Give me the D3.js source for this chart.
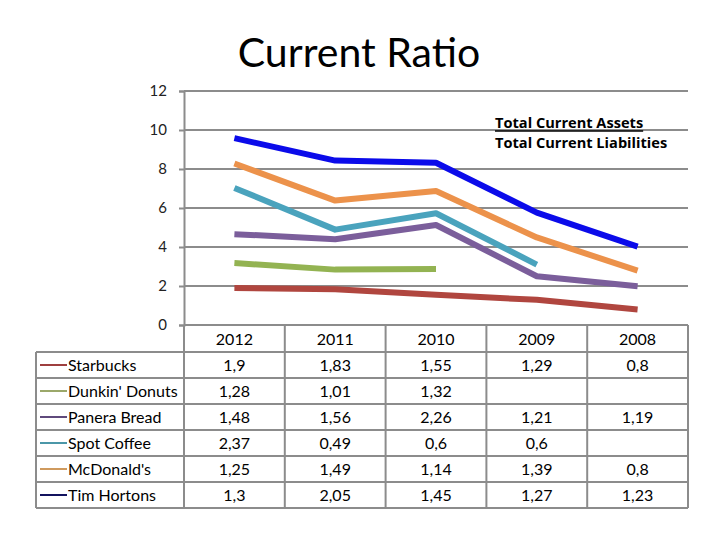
<!DOCTYPE html>
<html>
<head>
<meta charset="utf-8">
<title>Current Ratio</title>
<script src="https://d3js.org/d3.v7.min.js"></script>
<style>
  body { margin: 0; background: #fff; }
  svg text { font-family: Lato, "Open Sans", sans-serif; }
  svg text.note { font-family: "Open Sans", sans-serif; font-weight: bold; font-size: 14.6px; }
</style>
</head>
<body>
<div id="chart"></div>
<script>
var years = ["2012", "2011", "2010", "2009", "2008"];
var companies = ["Starbucks", "Dunkin' Donuts", "Panera Bread", "Spot Coffee", "McDonald's", "Tim Hortons"];
var starbucks = [1.9, 1.83, 1.55, 1.29, 0.8];
var dunkin = [1.28, 1.01, 1.32, null, null];
var panera = [1.48, 1.56, 2.26, 1.21, 1.19];
var spot = [2.37, 0.49, 0.6, 0.6, null];
var mcdonalds = [1.25, 1.49, 1.14, 1.39, 0.8];
var timHortons = [1.3, 2.05, 1.45, 1.27, 1.23];
var yTicks = [0, 2, 4, 6, 8, 10, 12];

var lineColors = ["#b0463f", "#93b352", "#7b5e9b", "#4aa3bd", "#ec924b", "#0b0bea"];
var keyColors = ["#9e3f3f", "#9ba86a", "#5f4a7c", "#4b97a8", "#cf9a5e", "#13135e"];

var seriesVals = [starbucks, dunkin, panera, spot, mcdonalds, timHortons];

var W = 720, H = 540;
var plotL = 184, plotR = 688, plotT = 91, zeroY = 325;
var rowH = 26, rowTop = 352, tableLeft = 36;

var svg = d3.select("#chart").append("svg")
  .attr("width", W).attr("height", H);

var x = d3.scaleBand().domain(years).range([plotL, plotR]);
var y = d3.scaleLinear().domain([0, 12]).range([zeroY, plotT]);

// title
svg.append("text")
  .attr("x", 359).attr("y", 67)
  .attr("text-anchor", "middle")
  .attr("font-size", 41)
  .attr("fill", "#000")
  .text("Current Ratio");

// grid
svg.append("g").selectAll("line")
  .data(yTicks)
  .enter().append("line")
  .attr("x1", plotL).attr("x2", plotR)
  .attr("y1", function(d){ return y(d); })
  .attr("y2", function(d){ return y(d); })
  .attr("stroke", "#8c8c8c").attr("stroke-width", 2);

var yAxis = svg.append("g")
  .attr("transform", "translate(" + plotL + ",0)")
  .call(d3.axisLeft(y).tickValues(yTicks).tickSize(5).tickPadding(12).tickFormat(d3.format("d")));
yAxis.select(".domain").attr("stroke", "#8c8c8c").attr("stroke-width", 2);
yAxis.selectAll(".tick line").attr("stroke", "#8c8c8c").attr("stroke-width", 2);
yAxis.selectAll(".tick text")
  .attr("font-family", "Lato, 'Open Sans', sans-serif")
  .attr("font-size", 15).attr("fill", "#222");

// stacked lines (missing values add nothing and break the line)
var cum = years.map(function(){ return 0; });
var stacked = seriesVals.map(function(vals){
  return vals.map(function(v, i){
    if (v !== null) cum[i] += v;
    return v === null ? null : cum[i];
  });
});

var line = d3.line()
  .defined(function(d){ return d !== null; })
  .x(function(d, i){ return x(years[i]) + x.bandwidth() / 2; })
  .y(function(d){ return y(d); });

svg.append("g").selectAll("path")
  .data(stacked)
  .enter().append("path")
  .attr("d", line)
  .attr("fill", "none")
  .attr("stroke", function(d, i){ return lineColors[i]; })
  .attr("stroke-width", 6)
  .attr("stroke-linejoin", "round");

// annotation
var note = svg.append("g");
var top1 = note.append("text").attr("class", "note").attr("x", 495).attr("y", 128).text("Total Current Assets");
note.append("line").attr("x1", 495).attr("x2", 495 + top1.node().getComputedTextLength())
  .attr("y1", 131).attr("y2", 131)
  .attr("stroke", "#000").attr("stroke-width", 1.3);
note.append("text").attr("class", "note").attr("x", 495).attr("y", 148).text("Total Current Liabilities");

// data table
var table = svg.append("g");
var bottom = rowTop + rowH * companies.length;
var gray = "#8c8c8c";

table.selectAll("line.h")
  .data(d3.range(companies.length + 1))
  .enter().append("line")
  .attr("x1", tableLeft).attr("x2", plotR)
  .attr("y1", function(i){ return rowTop + i * rowH; })
  .attr("y2", function(i){ return rowTop + i * rowH; })
  .attr("stroke", gray).attr("stroke-width", 2);

var vx = years.map(function(yr){ return x(yr); }).concat([plotR]);
table.selectAll("line.v")
  .data(vx)
  .enter().append("line")
  .attr("x1", function(d){ return d; }).attr("x2", function(d){ return d; })
  .attr("y1", zeroY).attr("y2", bottom)
  .attr("stroke", gray).attr("stroke-width", 2);
table.append("line")
  .attr("x1", tableLeft).attr("x2", tableLeft)
  .attr("y1", rowTop).attr("y2", bottom)
  .attr("stroke", gray).attr("stroke-width", 2);

table.selectAll("text.yr")
  .data(years)
  .enter().append("text")
  .attr("x", function(d){ return x(d) + x.bandwidth() / 2; })
  .attr("y", zeroY + 20)
  .attr("text-anchor", "middle")
  .attr("font-size", 16)
  .text(function(d){ return d; });

var rows = table.selectAll("g.row")
  .data(companies)
  .enter().append("g")
  .attr("transform", function(d, i){ return "translate(0," + (rowTop + i * rowH) + ")"; });

rows.append("line")
  .attr("x1", tableLeft + 4).attr("x2", tableLeft + 31)
  .attr("y1", rowH / 2).attr("y2", rowH / 2)
  .attr("stroke", function(d, i){ return keyColors[i]; })
  .attr("stroke-width", 2);

rows.append("text")
  .attr("x", tableLeft + 32).attr("y", rowH / 2 + 5.5)
  .attr("font-size", 16)
  .text(function(d){ return d; });

rows.each(function(name, r){
  d3.select(this).selectAll("text.val")
    .data(seriesVals[r])
    .enter().append("text")
    .attr("x", function(d, i){ return x(years[i]) + x.bandwidth() / 2; })
    .attr("y", rowH / 2 + 5.5)
    .attr("text-anchor", "middle")
    .attr("font-size", 16)
    .text(function(d){ return d === null ? "" : String(d).replace(".", ","); });
});
</script>
</body>
</html>
